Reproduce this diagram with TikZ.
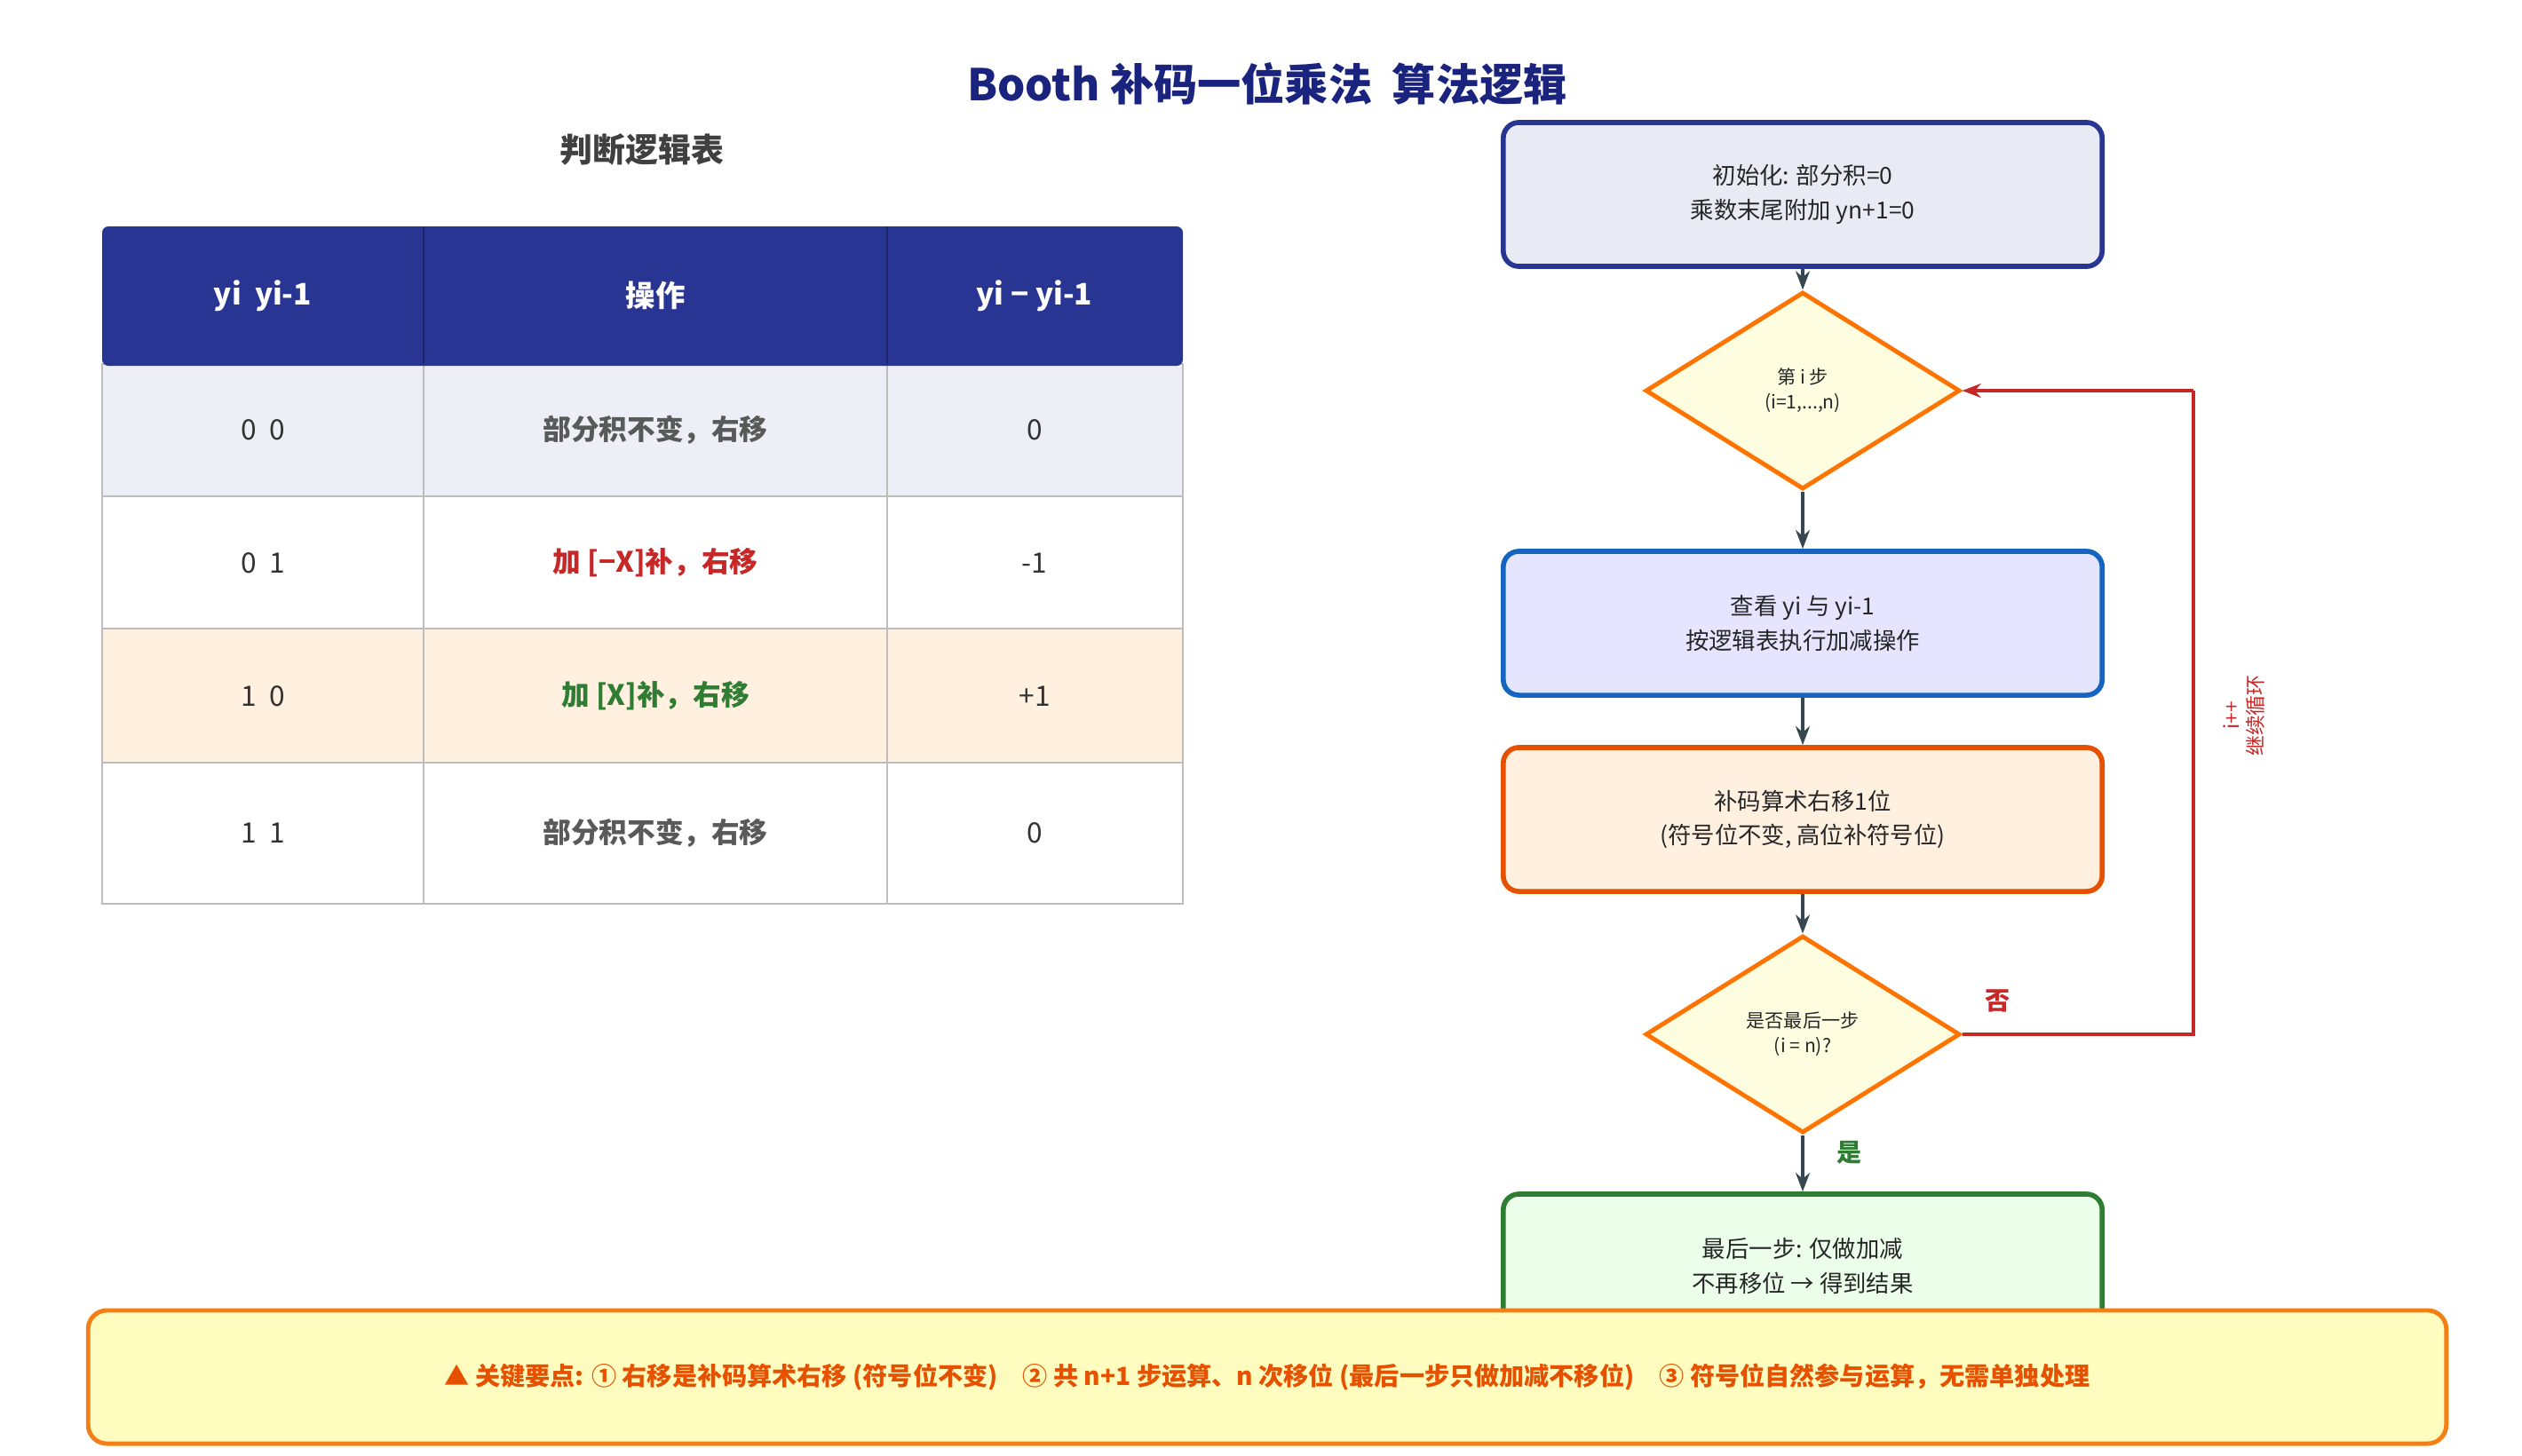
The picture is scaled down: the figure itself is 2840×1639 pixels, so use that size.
\documentclass[tikz,border=0pt]{standalone}
\usepackage{fontspec}
\setmainfont{Noto Sans CJK SC}
\usetikzlibrary{shapes.geometric,arrows.meta}
\definecolor{navy}{HTML}{283593}
\definecolor{ttl}{HTML}{1A237E}
\definecolor{arr}{HTML}{37474F}
\definecolor{gridc}{HTML}{BDBDBD}
\definecolor{redc}{HTML}{C62828}
\definecolor{greenc}{HTML}{2E7D32}
\begin{document}
\begin{tikzpicture}[x=0.01cm,y=-0.01cm,
  cell/.style={font=\fontsize{9}{11}\selectfont, text=black!80},
  hcell/.style={font=\bfseries\fontsize{9.5}{11}\selectfont, text=white},
  fbox/.style={draw, rounded corners=5pt, line width=1.6pt, minimum width=6.74cm, minimum height=1.62cm, align=center, font=\fontsize{7.5}{11}\selectfont, text=black!85},
  dia/.style={diamond, draw=orange!90!red, fill=yellow!12, line width=1.4pt, aspect=1.6, minimum width=3.54cm, minimum height=2.22cm, inner sep=0pt, align=center, font=\fontsize{6}{8}\selectfont, text=black!85},
  ar/.style={-{Stealth[length=6pt]}, draw=arr, line width=1.3pt},
  lp/.style={draw=redc, line width=1.3pt}]
\useasboundingbox (0,0) rectangle (2840,1639);
\node[font=\bfseries\fontsize{14}{16}\selectfont, text=ttl] (title) at (1427,95) {Booth 补码一位乘法\ \ 算法逻辑};
\node[font=\bfseries\fontsize{10.5}{12}\selectfont, text=black!75] (tt) at (723,169) {判断逻辑表};
% table
\fill[navy!8] (115,410) rectangle (1332,559);
\fill[orange!12] (115,708) rectangle (1332,859);
\draw[gridc, line width=0.8pt] (115,410) rectangle (1332,1018);
\foreach \y in {559,708,859} \draw[gridc, line width=0.8pt] (115,\y) -- (1332,\y);
\foreach \x in {477,999} \draw[gridc, line width=0.8pt] (\x,410) -- (\x,1018);
\fill[navy, rounded corners=2pt] (115,255) rectangle (1332,412);
\draw[navy!70!black, line width=0.8pt] (477,255) -- (477,410) (999,255) -- (999,410);
\node[hcell] (h1) at (296,333) {yi\ \ yi-1};
\node[hcell] (h2) at (738,333) {操作};
\node[hcell] (h3) at (1165,333) {yi − yi-1};
\node[cell] (a1) at (296,484) {0\ \ 0};
\node[cell,font=\bfseries\fontsize{9}{11}\selectfont,text=black!65] (b1) at (738,484) {部分积不变，右移};
\node[cell] (c1) at (1165,484) {0};
\node[cell] (a2) at (296,634) {0\ \ 1};
\node[cell,font=\bfseries\fontsize{9}{11}\selectfont,text=redc] (b2) at (738,634) {加 [−X]补，右移};
\node[cell] (c2) at (1165,634) {-1};
\node[cell] (a3) at (296,784) {1\ \ 0};
\node[cell,font=\bfseries\fontsize{9}{11}\selectfont,text=greenc] (b3) at (738,784) {加 [X]补，右移};
\node[cell] (c3) at (1165,784) {+1};
\node[cell] (a4) at (296,938) {1\ \ 1};
\node[cell,font=\bfseries\fontsize{9}{11}\selectfont,text=black!65] (b4) at (738,938) {部分积不变，右移};
\node[cell] (c4) at (1165,938) {0};
% flow
\node[fbox, draw=navy, fill=navy!10] (n1) at (2030,219) {初始化: 部分积=0\\乘数末尾附加 yn+1=0};
\node[dia] (d1) at (2030,440) {第 i 步\\(i=1,...,n)};
\node[fbox, draw=blue!60!black!90, fill=blue!10, draw={rgb,255:red,21;green,101;blue,192}] (n2) at (2030,702) {查看 yi 与 yi-1\\按逻辑表执行加减操作};
\node[fbox, draw={rgb,255:red,230;green,81;blue,0}, fill=orange!12] (n3) at (2030,923) {补码算术右移1位\\(符号位不变, 高位补符号位)};
\node[dia] (d2) at (2030,1165) {是否最后一步\\(i = n)?};
\node[fbox, draw=greenc, fill=green!8] (n4) at (2030,1426) {最后一步: 仅做加减\\不再移位 → 得到结果};
\draw[ar] (n1) -- (d1);
\draw[ar] (d1) -- (n2);
\draw[ar] (n2) -- (n3);
\draw[ar] (n3) -- (d2);
\draw[ar] (d2) -- (n4);
\coordinate (c1r) at (2470,1165);
\coordinate (c2r) at (2470,440);
\draw[lp] (d2.east) -- (c1r) -- (c2r);
\draw[lp,-{Stealth[length=6pt]}] (c2r) -- (d1.east);
\node[font=\bfseries\fontsize{8}{9}\selectfont, text=redc] (no) at (2250,1127) {否};
\node[font=\bfseries\fontsize{8}{9}\selectfont, text=greenc] (yes) at (2083,1298) {是};
\node[rotate=90, align=center, font=\fontsize{6.5}{7.5}\selectfont, text=redc] (lbl) at (2527,806) {i++\\继续循环};
% banner
\node[draw={rgb,255:red,245;green,127;blue,23}, fill=yellow!25, line width=1.4pt, rounded corners=6pt, minimum width=26.54cm, minimum height=1.5cm, font=\bfseries\fontsize{8}{10}\selectfont, text={rgb,255:red,230;green,81;blue,0}] (ban) at (1427,1551) {▲ 关键要点: ① 右移是补码算术右移 (符号位不变)\quad ② 共 n+1 步运算、n 次移位 (最后一步只做加减不移位)\quad ③ 符号位自然参与运算，无需单独处理};
\end{tikzpicture}
\end{document}
